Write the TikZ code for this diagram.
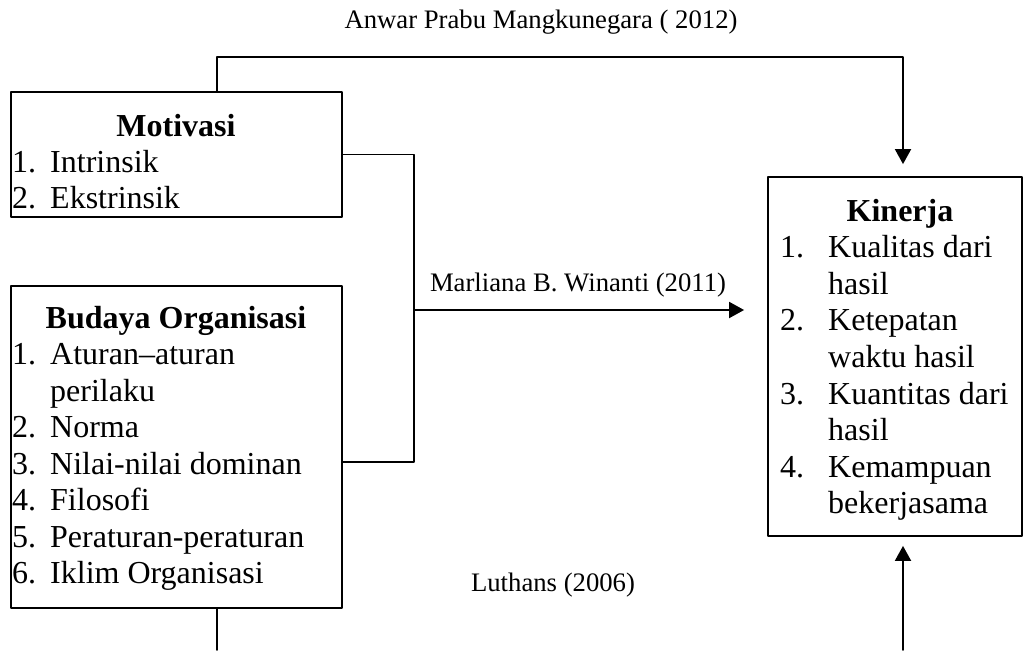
\documentclass[tikz,border=0pt]{standalone}
\usepackage{fontspec}
\setmainfont{Liberation Serif}
\usepackage{tikz}
\usetikzlibrary{arrows.meta}

\begin{document}
\begin{tikzpicture}[line cap=round,line join=round,>={Triangle[length=15pt,width=16pt]},x=1pt,y=-1pt,
  box/.style={draw,line width=1.8pt,inner sep=0pt},
  txt/.style={inner sep=0pt,font=\fontsize{32}{36.5}\selectfont},
  ttl/.style={txt,anchor=base,font=\fontsize{32}{36.5}\selectfont\bfseries},
  itm/.style={txt,anchor=base west},
  lbl/.style={inner sep=0pt,anchor=base,font=\fontsize{26.7}{30}\selectfont},
  con/.style={line width=1.9pt}]
\useasboundingbox (0,0) rectangle (1024,650);
% boxes
\node[box,minimum width=331pt,minimum height=125pt] (mot) at (176.5,154.5) {};
\node[box,minimum width=331pt,minimum height=322pt] (bud) at (176.5,447) {};
\node[box,minimum width=254pt,minimum height=359pt] (kin) at (895,356.5) {};
% texts
\node[ttl] (motttl) at (176,136) {Motivasi};
\foreach \nn/\tt [count=\i] in {1./Intrinsik,2./Ekstrinsik}
  {\node[itm] (motn\i) at (12,136+36*\i) {\nn};
   \node[itm] (mott\i) at (50,136+36*\i) {\tt};}
\node[ttl] (budttl) at (176,328) {Budaya Organisasi};
\foreach \nn/\tt [count=\i] in {1./Aturan–aturan,/perilaku,2./Norma,3./Nilai-nilai dominan,4./Filosofi,5./Peraturan-peraturan,6./Iklim Organisasi}
  {\node[itm] (budn\i) at (12,328+36.5*\i) {\nn};
   \node[itm] (budt\i) at (50,328+36.5*\i) {\tt};}
\node[ttl] (kinttl) at (900,221) {Kinerja};
\foreach \nn/\tt [count=\i] in {1./Kualitas dari,/hasil,2./Ketepatan,/waktu hasil,3./Kuantitas dari,/hasil,4./Kemampuan,/bekerjasama}
  {\node[itm] (kinn\i) at (780,221+36.6*\i) {\nn};
   \node[itm] (kint\i) at (828,221+36.6*\i) {\tt};}
\node[lbl] (anwar) at (541,29) {Anwar Prabu Mangkunegara ( 2012)};
\node[lbl] (marliana) at (578,291) {Marliana B. Winanti (2011)};
\node[lbl] (luthans) at (553,591) {Luthans (2006)};
% connectors
\coordinate (topl) at (217,57);
\coordinate (topr) at (903,57);
\coordinate (jn) at (414,310);
\coordinate (botl) at (217,650);
\coordinate (botr) at (903,650);
\draw[con,->] (topl |- mot.north) -- (topl) -- (topr) -- ([yshift=12pt]topr |- kin.north);
\draw[con] (mot.east) -| ([yshift=-15pt]jn |- bud.east) -- ([yshift=-15pt]bud.east);
\draw[con,->] (jn) -- ([xshift=-23pt]kin.west |- jn);
\draw[con] (botl |- bud.south) -- (botl);
\draw[con,->] (botr) -- ([yshift=-9pt]botr |- kin.south);
\end{tikzpicture}
\end{document}
